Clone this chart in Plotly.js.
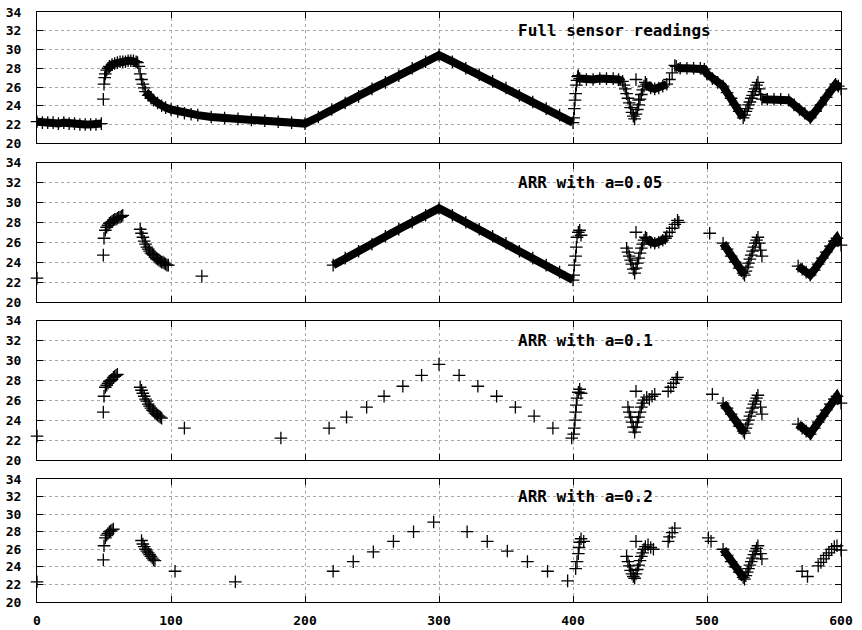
<!DOCTYPE html>
<html>
<head>
<meta charset="utf-8">
<script src="https://cdn.plot.ly/plotly-3.0.1.min.js"></script>
<style>html,body{margin:0;padding:0;background:#fff;}#chart{width:862px;height:630px;}</style>
</head>
<body>
<div id="chart"></div>
<script>
// ---------- data ----------
const titles = ["Full sensor readings", "ARR with a=0.05", "ARR with a=0.1", "ARR with a=0.2"];
const xTicks = [0, 100, 200, 300, 400, 500, 600];
const yTicks = [20, 22, 24, 26, 28, 30, 32, 34];

// Panel 1: full sensor readings (dense runs, null separates runs)
const fullRunX = [0,4,8,12,16,20,24,28,32,36,40,44,48, null,
  52,53,54,56,58,60,62,64,66,68,70,72,74,75, null,
  81,83,85,87,90,93,96,100,105,110,115,120,130,140,150,160,170,180,190,200,
  210,220,230,240,250,260,270,280,290,300,310,320,330,340,350,360,370,380,390,400, null,
  405,410,415,420,425,430,434,437, null,
  455,458,461,464,467,470, null,
  477,480,485,490,495,498,500,504,508,512,515,518,521,524,527, null,
  541,545,550,555,561,565,569,573,577,581,585,589,593,596,598,600];
const fullRunY = [22.3,22.2,22.2,22.2,22.1,22.2,22.1,22.1,22.0,22.0,22.0,22.0,22.1, null,
  27.8,28.0,28.2,28.4,28.5,28.6,28.7,28.7,28.7,28.8,28.8,28.8,28.7,28.6, null,
  25.5,25.1,24.8,24.6,24.3,24.0,23.8,23.6,23.4,23.2,23.1,23.0,22.8,22.7,22.6,22.5,22.4,22.3,22.2,22.1,
  22.8,23.6,24.3,25.0,25.8,26.5,27.2,28.0,28.7,29.4,28.7,28.0,27.3,26.6,25.9,25.1,24.4,23.7,23.0,22.2, null,
  26.9,26.8,26.8,26.9,26.9,26.9,26.8,26.6, null,
  26.3,25.9,25.8,25.9,26.1,26.3, null,
  28.2,28.0,28.0,28.0,28.0,27.9,27.4,26.9,26.5,26.1,25.4,24.8,24.1,23.4,22.7, null,
  24.7,24.7,24.7,24.7,24.6,24.1,23.6,23.2,22.7,23.4,24.1,24.9,25.7,26.3,26.1,25.8];
// Panel 1: individually visible readings
const fullDotX = [49.5,50,50.5,51, 76,77,78,79,80,
  400.5,401,401.5,402,402.5,403,403.5,404,
  438,439,440,441,442,443,444,445,446,447,448,449,450,451,452,453,454, 447,449,
  472,474,476,
  528,529,530,531,532,533,534,535,536,537,538,539,540];
const fullDotY = [24.7,26.3,27.0,27.4, 28.2,27.4,26.8,26.3,25.9,
  22.7,23.7,24.6,25.3,26.2,26.7,27.1,27.2,
  26.2,25.8,25.3,24.8,24.3,23.8,23.3,22.9,22.6,23.1,23.6,24.1,24.7,25.2,25.7,26.1,26.5, 26.8,24.6,
  26.8,27.5,28.3,
  23.0,23.4,23.7,24.1,24.4,24.8,25.1,25.5,25.8,26.2,26.5,25.8,25.2];

// Panel 2: ARR a=0.05
const arr05RunX = [221,230,240,250,260,270,280,290,300,310,320,330,340,350,360,370,380,390,400, null,
  455,458,461,464,467,469, null,
  512,515,518,521,524,527,528, null,
  568,571,574,577,580,583,586,589,592,595,597,600];
const arr05RunY = [23.7,24.4,25.1,25.8,26.6,27.3,28.0,28.7,29.4,28.7,28.0,27.3,26.6,25.9,25.1,24.4,23.7,23.0,22.2, null,
  26.4,26.0,25.9,26.0,26.2,26.4, null,
  25.9,25.3,24.6,24.0,23.4,22.9,22.7, null,
  23.6,23.3,23.0,22.7,23.2,23.8,24.4,25.0,25.6,26.1,26.4,25.7];
const arr05DotX = [0,49.5,50, 51,52,53,54,55,56,57,58,59,60,61,62,63,64,
  77,78,79,80,81,82,83,84,85,86,87,88,89,90,91,92,93,94,95,96,97,98,
  123, 400.5,401,402,402.5,403,404,405,406,
  440,441,442,443,444,445,446,447,448,449,450,451,452,453,454, 447,
  470,472,474,476,478,479, 502,
  529,530,531,532,533,534,535,536,537,538,539,540,541];
const arr05DotY = [22.4,24.7,26.4, 27.2,27.5,27.7,27.9,28.0,28.1,28.2,28.3,28.3,28.4,28.5,28.5,28.6,28.7,
  27.3,26.9,26.5,26.1,25.8,25.5,25.3,25.1,24.9,24.8,24.7,24.5,24.4,24.3,24.2,24.1,24.0,24.0,23.9,23.8,23.7,23.7,
  22.6, 22.7,23.7,24.6,25.5,26.5,27.0,27.2,26.7,
  25.4,25.0,24.6,24.2,23.8,23.3,22.9,23.4,23.9,24.4,24.9,25.4,25.8,26.2,26.5, 27.0,
  26.6,27.0,27.4,27.8,28.2,28.0, 26.9,
  23.1,23.5,23.9,24.3,24.7,25.1,25.5,25.9,26.2,26.5,25.9,25.2,24.6];

// Panel 3: ARR a=0.1
const arr10RunX = [512,515,518,521,524,527,528, null,
  568,571,574,577,580,583,586,589,592,595,597,600];
const arr10RunY = [25.7,25.2,24.6,24.0,23.4,22.9,22.7, null,
  23.6,23.2,22.9,22.6,23.2,23.8,24.4,25.0,25.6,26.1,26.4,25.7];
const arr10DotX = [0,49.5,50, 51,52,53,54,55,56,57,58,59,60,
  77,78,79,80,81,82,83,84,85,86,87,88,89,90,91,92,93,
  110,182,218,231,246,259,273,287,300,315,329,343,357,371,385,399,
  400.5,401,401.5,402,402.5,403,404,405,406,
  441,442,443,444,445,446,447,448,449,450,451,452,453,455,457,459,461, 447,
  471,473,475,477,478, 504,
  529,530,531,532,533,534,535,536,537,538,540,541];
const arr10DotY = [22.4,24.8,26.4, 27.3,27.5,27.7,27.9,28.0,28.1,28.3,28.4,28.5,28.6,
  27.3,27.0,26.7,26.4,26.1,25.9,25.6,25.4,25.2,25.0,24.9,24.7,24.6,24.5,24.4,24.3,24.2,
  23.2,22.2,23.2,24.3,25.3,26.4,27.4,28.5,29.6,28.5,27.4,26.4,25.3,24.4,23.2,22.2,
  22.6,23.2,24.0,24.8,25.5,26.2,26.8,27.1,26.7,
  25.3,24.8,24.3,23.8,23.3,22.8,23.3,23.8,24.3,24.8,25.3,25.7,26.0,26.3,26.1,26.4,26.6, 26.9,
  26.9,27.3,27.7,28.1,28.3, 26.6,
  23.2,23.6,24.0,24.4,24.8,25.2,25.6,25.9,26.2,26.5,25.3,24.6];

// Panel 4: ARR a=0.2
const arr20RunX = [512,515,518,521,524,527,528];
const arr20RunY = [26.0,25.3,24.6,24.0,23.4,22.8,22.6];
const arr20DotX = [0,49.5,50, 51,52,53,54,55,56,57,
  78,79,80,81,82,83,84,85,86,87,88,
  103,148,221,236,251,266,281,296,321,336,351,366,381,396,
  402,403,404,404.5,405,406,408,
  440,441,442,443,444,445,446,447,448,449,450,451,452,453,454,456,458,460, 447,
  471,472,474,476, 501,503,
  529,530,531,532,533,534,535,536,537,538,540,541,
  571,575, 583,585,587,589,591,593,595,597,600];
const arr20DotY = [22.3,24.8,26.4, 27.3,27.6,27.8,28.0,28.1,28.2,28.3,
  27.0,26.6,26.3,26.0,25.8,25.6,25.4,25.2,25.0,24.8,24.7,
  23.5,22.3,23.5,24.6,25.7,26.9,28.0,29.1,28.0,26.9,25.8,24.6,23.5,22.4,
  23.8,24.6,25.5,26.2,26.8,27.2,26.9,
  25.2,24.6,24.1,23.6,23.2,22.9,22.7,23.2,23.7,24.2,24.7,25.2,25.6,26.0,26.3,26.5,26.2,26.0, 26.9,
  26.9,27.4,27.9,28.4, 27.3,26.9,
  23.0,23.4,23.8,24.2,24.6,25.0,25.4,25.8,26.1,26.4,25.5,24.9,
  23.5,22.9, 24.1,24.5,24.9,25.3,25.6,26.0,26.3,26.4,25.9];

// ---------- build ----------
const panels = [
  {runX: fullRunX, runY: fullRunY, dotX: fullDotX, dotY: fullDotY},
  {runX: arr05RunX, runY: arr05RunY, dotX: arr05DotX, dotY: arr05DotY},
  {runX: arr10RunX, runY: arr10RunY, dotX: arr10DotX, dotY: arr10DotY},
  {runX: arr20RunX, runY: arr20RunY, dotX: arr20DotX, dotY: arr20DotY}
];
const domains = [[0.7775, 1], [0.5085, 0.7449], [0.2407, 0.4771], [0, 0.2085]];
const tickFont = {family: "DejaVu Sans Mono", size: 13, color: "#000", weight: "bold"};

const traces = [];
const layout = {
  width: 862, height: 630,
  margin: {l: 37, r: 21, t: 12, b: 28},
  paper_bgcolor: "#fff", plot_bgcolor: "#fff",
  showlegend: false,
  annotations: []
};
panels.forEach((p, i) => {
  const n = i === 0 ? "" : String(i + 1);
  traces.push({
    x: p.runX, y: p.runY, xaxis: "x" + n, yaxis: "y" + n,
    type: "scatter", mode: "lines", connectgaps: false,
    line: {color: "#000", width: 8}, hoverinfo: "skip"
  });
  traces.push({
    x: p.runX.concat(p.dotX), y: p.runY.concat(p.dotY), xaxis: "x" + n, yaxis: "y" + n,
    type: "scatter", mode: "markers", cliponaxis: false,
    marker: {symbol: "cross-thin-open", size: 9, color: "#000", line: {color: "#000", width: 1.3}},
    hoverinfo: "skip"
  });
  const common = {
    showline: true, linecolor: "#000", linewidth: 1, mirror: "ticks",
    ticks: "inside", ticklen: 6, tickcolor: "#000", tickwidth: 1,
    showgrid: true, gridcolor: "#a6a6a6", griddash: "dot", gridwidth: 1,
    zeroline: false, tickfont: tickFont, fixedrange: true
  };
  layout["xaxis" + n] = Object.assign({}, common, {
    domain: [0, 1], anchor: "y" + n, range: [0, 600],
    tickmode: "array", tickvals: xTicks, ticktext: xTicks.map(String),
    showticklabels: i === 3, ticklabelstandoff: 6
  });
  layout["yaxis" + n] = Object.assign({}, common, {
    domain: domains[i], anchor: "x" + n, range: [20, 34],
    tickmode: "array", tickvals: yTicks, ticktext: yTicks.map(String),
    ticklabelstandoff: 12
  });
  layout.annotations.push({
    xref: "x" + n, yref: "y" + n, x: 357.5, y: 32,
    xanchor: "left", yanchor: "middle", showarrow: false,
    text: titles[i],
    font: {family: "DejaVu Sans Mono", size: 16, color: "#000", weight: "bold"}
  });
});

Plotly.newPlot("chart", traces, layout, {staticPlot: true, displayModeBar: false});
</script>
</body>
</html>
